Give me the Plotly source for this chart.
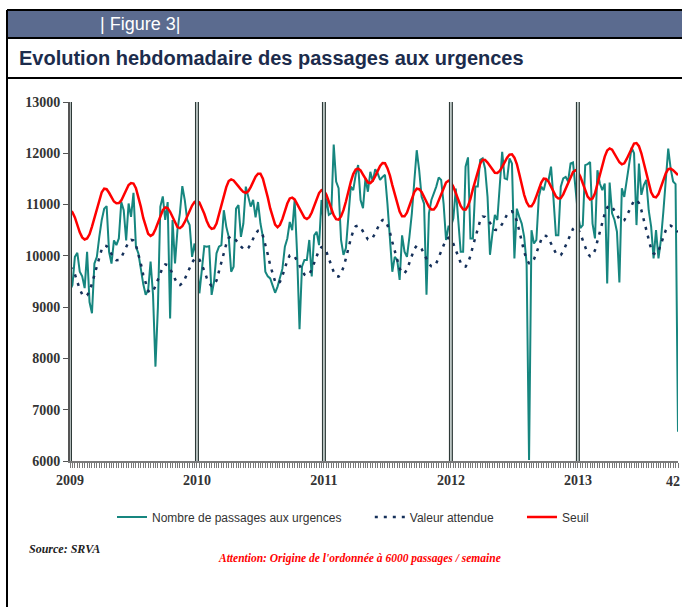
"""
Weekly emergency visits chart (SRVA, Figure 3).
"""

import plotly.graph_objects as go


_W, _H = 682, 607
_PL, _PR, _PT, _PB = 70, 678, 102, 461   # plot area in pixels

_TEAL   = "#16867F"
_NAVY   = "#15305A"
_RED    = "#FF0000"
_BAND   = "#5B6B8F"
_AXIS   = "#555555"
_TEXT   = "#333333"
_SANS   = "Liberation Sans, Arial, sans-serif"
_SERIF  = "Liberation Serif, Times New Roman, serif"
_NB     = "\u00a0"

# tick positions are week indexes counted from week 1 of 2009
TICK_POS  = [0, 52, 104, 156, 208, 249]
TICK_TEXT = ["2009", "2010", "2011", "2012", "2013", "42"]
Y_TICKS   = [6000, 7000, 8000, 9000, 10000, 11000, 12000, 13000]

PASSAGES = [
    # 2009
    9330, 9430, 9980, 10060, 9690, 9600, 9370, 10080, 9100, 8880,
    9850, 9980, 10370, 10700, 10920, 10970, 10080, 9850, 10300, 10210,
    10340, 11050, 10890, 10300, 11020, 10760, 11230, 10180, 10050, 9720,
    9450, 9240, 9330, 9890, 9240, 7840, 9000, 10960, 11160, 10700,
    11050, 8780, 10700, 9850, 10500, 10830, 11360, 11090, 10700, 10600,
    9980, 10240,
    # 2010
    9920, 9270, 9790, 10190, 10180, 10190, 9240, 9500, 10050, 10180,
    10210, 10890, 10570, 10370, 9690, 9790, 10920, 10990, 10370, 10630,
    11350, 11180, 10960, 11090, 10750, 11050, 10630, 10370, 9690, 9600,
    9560, 9420, 9280, 9400, 9590, 9750, 10180, 10340, 10660, 10500,
    11090, 10050, 8570, 9790, 9920, 9920, 10310, 9600, 10400, 10470,
    10210, 11090,
    # 2011
    10570, 11120, 10800, 10830, 12170, 11450, 11320, 10310, 10020, 10150,
    10760, 11350, 11280, 11580, 11770, 11090, 10930, 11510, 11250, 11640,
    11450, 11690, 11610, 11480, 11540, 11580, 11020, 10370, 9690, 9980,
    9920, 9530, 10400, 10080, 9980, 10370, 10830, 11450, 12060, 11670,
    11150, 11020, 9240, 10830, 11090, 11220, 11350, 11530, 11480, 11020,
    10310, 10570,
    # 2012
    10570, 10730, 11310, 10700, 10080, 10080, 11740, 11920, 10340, 10340,
    11350, 11350, 11870, 11900, 11700, 11150, 10020, 10440, 10800, 10700,
    11350, 12030, 11510, 11490, 11900, 11800, 9950, 10920, 10760, 10630,
    10370, 9850, 6020, 10500, 10240, 10310, 11150, 11350, 11280, 11480,
    11480, 11740, 11120, 10400, 10400, 11350, 11510, 11540, 11450, 11800,
    11820, 11250,
    # 2013 (to week 42)
    10830, 10540, 10600, 11770, 11790, 11830, 10630, 10340, 11670, 11410,
    11280, 11410, 9460, 11430, 10830, 10700, 10470, 9480, 11320, 11150,
    11480, 11740, 12110, 12000, 10600, 11800, 11190, 11380, 11480, 10890,
    10570, 9950, 10500, 9950, 10310, 10860, 11480, 12090, 11700, 11450,
    11400, 6570,
]

ATTENDUE = [
    9780, 9740, 9640, 9490, 9350, 9250, 9210, 9230, 9310, 9460,
    9630, 9820, 10000, 10130, 10200, 10190, 10120, 10030, 9950, 9915,
    9920, 9970, 10070, 10180, 10270, 10310, 10300, 10210, 10040, 9850,
    9630, 9450, 9320, 9280, 9310, 9410, 9540, 9670, 9780, 9835,
    9820, 9750, 9640, 9540, 9450, 9430, 9470, 9550, 9660, 9770,
    9870, 9940, 9965, 9930, 9830, 9710, 9570, 9465, 9415, 9430,
    9520, 9690, 9880, 10070, 10230, 10350, 10380, 10360, 10310, 10245,
    10185, 10135, 10120, 10150, 10230, 10340, 10435, 10490, 10490, 10395,
    10235, 10030, 9815, 9630, 9500, 9450, 9495, 9610, 9770, 9910,
    10010, 10025, 9990, 9895, 9805, 9710, 9635, 9610, 9645, 9735,
    9865, 10005, 10115, 10170, 10160, 10080, 9955, 9810, 9685, 9605,
    9595, 9660, 9780, 9950, 10155, 10335, 10485, 10575, 10590, 10555,
    10475, 10385, 10320, 10310, 10355, 10445, 10555, 10645, 10700, 10695,
    10600, 10460, 10270, 10080, 9895, 9755, 9660, 9660, 9730, 9860,
    10010, 10135, 10200, 10190, 10135, 10035, 9930, 9845, 9795, 9795,
    9855, 9970, 10105, 10230, 10320, 10355, 10325, 10235, 10115, 9975,
    9865, 9795, 9790, 9865, 10000, 10190, 10365, 10555, 10690, 10765,
    10760, 10710, 10635, 10560, 10510, 10505, 10545, 10625, 10720, 10805,
    10865, 10870, 10805, 10680, 10485, 10275, 10080, 9935, 9855, 9855,
    9930, 10055, 10200, 10320, 10395, 10390, 10335, 10240, 10135, 10050,
    10010, 10015, 10090, 10200, 10315, 10435, 10525, 10560, 10530, 10435,
    10290, 10155, 10045, 9990, 10010, 10110, 10280, 10470, 10665, 10825,
    10945, 10985, 10960, 10885, 10790, 10715, 10675, 10695, 10780, 10890,
    11005, 11080, 11090, 11030, 10890, 10690, 10495, 10290, 10130, 10045,
    10030, 10095, 10225, 10370, 10500, 10580, 10590, 10560, 10510, 10465,
]

SEUIL = [
    10890, 10850, 10750, 10600, 10460, 10360, 10320, 10340, 10420, 10570,
    10740, 10930, 11110, 11240, 11310, 11300, 11230, 11140, 11060, 11025,
    11030, 11080, 11180, 11290, 11380, 11420, 11410, 11320, 11150, 10960,
    10740, 10560, 10430, 10390, 10420, 10520, 10650, 10780, 10890, 10945,
    10930, 10860, 10750, 10650, 10560, 10540, 10580, 10660, 10770, 10880,
    10980, 11050, 11075, 11040, 10940, 10820, 10680, 10575, 10525, 10540,
    10630, 10800, 10990, 11180, 11340, 11460, 11490, 11470, 11420, 11355,
    11295, 11245, 11230, 11260, 11340, 11450, 11545, 11600, 11600, 11505,
    11345, 11140, 10925, 10740, 10610, 10560, 10605, 10720, 10880, 11020,
    11120, 11135, 11100, 11005, 10915, 10820, 10745, 10720, 10755, 10845,
    10975, 11115, 11225, 11280, 11270, 11190, 11065, 10920, 10795, 10715,
    10705, 10770, 10890, 11060, 11265, 11445, 11595, 11685, 11700, 11665,
    11585, 11495, 11430, 11420, 11465, 11555, 11665, 11755, 11810, 11805,
    11710, 11570, 11380, 11190, 11005, 10865, 10770, 10770, 10840, 10970,
    11120, 11245, 11310, 11300, 11245, 11145, 11040, 10955, 10905, 10905,
    10965, 11080, 11215, 11340, 11430, 11465, 11435, 11345, 11225, 11085,
    10975, 10905, 10900, 10975, 11110, 11300, 11475, 11665, 11800, 11875,
    11870, 11820, 11745, 11670, 11620, 11615, 11655, 11735, 11830, 11915,
    11975, 11980, 11915, 11790, 11595, 11385, 11190, 11045, 10965, 10965,
    11040, 11165, 11310, 11430, 11505, 11500, 11445, 11350, 11245, 11160,
    11120, 11125, 11200, 11310, 11425, 11545, 11635, 11670, 11640, 11545,
    11400, 11265, 11155, 11100, 11120, 11220, 11390, 11580, 11775, 11935,
    12055, 12095, 12070, 11995, 11900, 11825, 11785, 11805, 11890, 12000,
    12115, 12190, 12200, 12140, 12000, 11800, 11605, 11400, 11240, 11155,
    11140, 11205, 11335, 11480, 11610, 11690, 11700, 11670, 11620, 11575,
]

WEEKS = list(range(len(PASSAGES)))


def px_x(px):
    return (px - _PL) / (_PR - _PL)


def px_y(py):
    return (_PB - py) / (_PB - _PT)


fig = go.Figure()
# trailing no-break spaces widen the gaps between legend entries
fig.add_trace(go.Scatter(
    x=WEEKS, y=PASSAGES, mode="lines",
    name="Nombre de passages aux urgences" + _NB * 7,
    line=dict(color=_TEAL, width=2),
))
fig.add_trace(go.Scatter(
    x=WEEKS, y=ATTENDUE, mode="lines",
    name="Valeur attendue" + _NB * 7,
    line=dict(color=_NAVY, width=2.5, dash="3px,6px"),
))
fig.add_trace(go.Scatter(
    x=WEEKS, y=SEUIL, mode="lines",
    name="Seuil",
    line=dict(color=_RED, width=2.5),
))

shapes = []
# frame: header band and rules
shapes.append(dict(type="rect", xref="paper", yref="paper",
                   x0=px_x(7), x1=px_x(682), y0=px_y(37), y1=px_y(11),
                   fillcolor=_BAND, line=dict(width=0), layer="below"))
for py in (10, 38, 78):
    shapes.append(dict(type="line", xref="paper", yref="paper",
                       x0=px_x(7), x1=px_x(682), y0=px_y(py), y1=px_y(py),
                       line=dict(color="#000000", width=2)))
shapes.append(dict(type="line", xref="paper", yref="paper",
                   x0=px_x(7), x1=px_x(7), y0=px_y(10), y1=px_y(607),
                   line=dict(color="#000000", width=2)))
# year separators (double rule)
for pos in TICK_POS[:-1]:
    shapes.append(dict(type="line", xref="x", yref="paper",
                       x0=pos, x1=pos, y0=0, y1=1,
                       line=dict(color="#2E3A38", width=4)))
    shapes.append(dict(type="line", xref="x", yref="paper",
                       x0=pos, x1=pos, y0=0, y1=1,
                       line=dict(color="#DCE6E4", width=1.5)))

_tickfont = dict(family=_SERIF, size=14, color=_TEXT, weight="bold")

annotations = [
    dict(xref="paper", yref="paper", x=px_x(98), y=px_y(24),
         xanchor="left", yanchor="middle", showarrow=False,
         text="| Figure 3|", font=dict(family=_SANS, size=18, color="#FFFFFF")),
    dict(xref="paper", yref="paper", x=px_x(17), y=px_y(58),
         xanchor="left", yanchor="middle", showarrow=False,
         text="<b>Evolution hebdomadaire des passages aux urgences</b>",
         font=dict(family=_SANS, size=20, color="#1C2C4C")),
    dict(xref="paper", yref="paper", x=px_x(27), y=px_y(549),
         xanchor="left", yanchor="middle", showarrow=False,
         text="<b><i>Source: SRVA</i></b>",
         font=dict(family=_SERIF, size=12, color="#222222")),
    dict(xref="paper", yref="paper", x=px_x(359), y=px_y(558),
         xanchor="center", yanchor="middle", showarrow=False,
         text="<b><i>Attention: Origine de l'ordonnée à 6000 passages / semaine</i></b>",
         font=dict(family=_SERIF, size=11.5, color=_RED)),
    # last tick label sits at the page edge: right-align it so it stays whole
    dict(xref="paper", yref="paper", x=px_x(682), y=px_y(481),
         xanchor="right", yanchor="middle", showarrow=False,
         text=TICK_TEXT[-1], font=_tickfont),
]

fig.update_layout(
    width=_W, height=_H,
    margin=dict(l=_PL, r=_W - _PR, t=_PT, b=_H - _PB),
    paper_bgcolor="#FFFFFF", plot_bgcolor="#FFFFFF",
    font=dict(family=_SANS, color=_TEXT, size=12),
    showlegend=True,
    legend=dict(
        orientation="h", x=px_x(112), xanchor="left",
        y=px_y(517), yanchor="middle",
        font=dict(family=_SANS, size=12, color=_TEXT),
        bgcolor="rgba(0,0,0,0)",
    ),
    shapes=shapes,
    annotations=annotations,
)
fig.update_xaxes(
    range=[TICK_POS[0], TICK_POS[-1]],
    tickvals=TICK_POS[:-1], ticktext=TICK_TEXT[:-1],
    ticks="outside", ticklen=5, tickcolor="#777777",
    automargin=False,
    minor=dict(dtick=1, tick0=0, ticks="outside", ticklen=5,
               tickcolor="#777777", tickwidth=1),
    showline=True, linecolor="#7A7A7A", linewidth=2,
    showgrid=False, zeroline=False,
    tickfont=_tickfont,
)
fig.update_yaxes(
    range=[Y_TICKS[0], Y_TICKS[-1]],
    tickvals=Y_TICKS, tickformat="d",
    ticks="outside", ticklen=5, tickcolor=_AXIS,
    showline=True, linecolor=_AXIS, linewidth=2,
    showgrid=False, zeroline=False, automargin=False,
    tickfont=_tickfont,
)

# the page's default body margin would shift the whole figure by 8px
fig.write_html(
    "out.html",
    config={"displayModeBar": False},
    post_script="document.body.style.margin = '0';",
)
